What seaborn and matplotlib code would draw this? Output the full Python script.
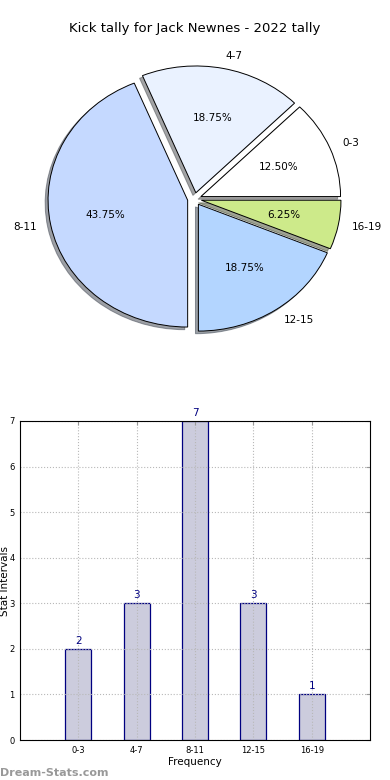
import matplotlib
matplotlib.use('Agg')
import matplotlib.pyplot as plt
import seaborn as sns
import pandas as pd

# podaci sa slike
intervals = ['0-3', '4-7', '8-11', '12-15', '16-19']
counts = [2, 3, 7, 3, 1]
pie_colors = ['#ffffff', '#eaf2ff', '#c5d9ff', '#b3d5ff', '#cdea8a']
title = 'Kick tally for Jack Newnes - 2022 tally'

sns.set_style('white')
plt.rcParams['font.family'] = ['DejaVu Sans']
plt.rcParams['text.color'] = 'black'
plt.rcParams['axes.labelcolor'] = 'black'
plt.rcParams['xtick.color'] = 'black'
plt.rcParams['ytick.color'] = 'black'

fig = plt.figure(figsize=(3.9, 7.8), dpi=100)

# pita gore
ax_pie = fig.add_axes([20 / 390, 422.5 / 780, 349 / 390, 317 / 780])
wedges, texts, autotexts = ax_pie.pie(
    counts, labels=intervals, colors=pie_colors, autopct='%.2f%%',
    explode=[0.05] * len(counts),
    shadow={'ox': -0.015, 'oy': -0.015, 'shade': 0.7}, startangle=0,
    wedgeprops={'edgecolor': 'black', 'linewidth': 0.7},
    textprops={'fontsize': 7.5, 'color': 'black'})
ax_pie.set_aspect('auto')
ax_pie.set_xlim(-1.25, 1.25)
ax_pie.set_ylim(-1.25, 1.25)
ax_pie.set_title(title, fontsize=9.5, pad=6, color='black')

# stubici dole
ax_bar = fig.add_axes([20 / 390, 40 / 780, 350 / 390, 319 / 780])
df = pd.DataFrame({'interval': intervals, 'count': counts})
sns.barplot(data=df, x='interval', y='count', order=intervals, width=0.45,
            color='#ccccdd', edgecolor='#000080', linewidth=0.9,
            saturation=1, ax=ax_bar)
ax_bar.set_xlim(-1, 5)
ax_bar.set_ylim(0, 7)
ax_bar.set_yticks(range(0, 8))
ax_bar.grid(True, linestyle=':', color='#b8b8b8', linewidth=0.8)
ax_bar.set_axisbelow(False)
for s in ax_bar.spines.values():
    s.set_color('black')
    s.set_linewidth(0.8)
    s.set_zorder(3)
ax_bar.tick_params(direction='in', top=True, right=True, labelsize=6,
                   length=3, color='#999999', labelcolor='black', pad=4)
ax_bar.set_xlabel('Frequency', fontsize=7.5, labelpad=2)
ax_bar.set_ylabel('Stat Intervals', fontsize=7.5)
ax_bar.yaxis.set_label_coords(-0.028, 0.5)

for i, v in enumerate(counts):
    ax_bar.text(i, v + 0.07, str(v), ha='center', va='bottom',
                color='#000080', fontsize=7.5)

fig.text(0.0, 0.003, 'Dream-Stats.com', color='#999999', fontsize=8,
         fontweight='bold', ha='left', va='bottom')

fig.savefig('out.png', dpi=100)
plt.close(fig)
